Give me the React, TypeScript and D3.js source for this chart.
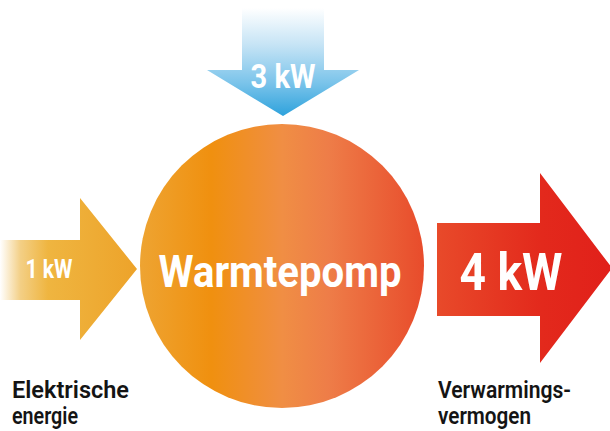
import React, { useEffect, useRef } from "react";
import * as d3 from "d3";

// flows in and out of the heat pump
const flowNames = ["input", "ambient", "output"];
const flowValues = [1, 3, 4];
const flowLabels = ["1 kW", "3 kW", "4 kW"];
const centerLabel = "Warmtepomp";
const leftCaption = ["Elektrische", "energie"];
const rightCaption = ["Verwarmings-", "vermogen"];

const W = 610;
const H = 431;
const FONT = "'Liberation Sans Narrow', 'Roboto', 'Open Sans', sans-serif";

const App = () => {
  const svgRef = useRef(null);

  useEffect(() => {
    const svg = d3.select(svgRef.current).attr("width", W).attr("height", H);
    svg.selectAll("*").remove();
    const defs = svg.append("defs");

    // ---------------- gradients
    const grad = (id, x1, y1, x2, y2, stops) => {
      const g = defs
        .append("linearGradient")
        .attr("id", id)
        .attr("gradientUnits", "userSpaceOnUse")
        .attr("x1", x1)
        .attr("y1", y1)
        .attr("x2", x2)
        .attr("y2", y2);
      g.selectAll("stop")
        .data(stops)
        .join("stop")
        .attr("offset", d => d[0])
        .attr("stop-color", d => d[1]);
    };
    grad("gBlue", 0, 8, 0, 116, [
      [0, "#ffffff"],
      [0.35, "#c4e3f5"],
      [0.7, "#79c3ea"],
      [1, "#2ea2dc"]
    ]);
    grad("gYellow", 0, 0, 137, 0, [
      [0, "#ffffff"],
      [0.15, "#f3cf85"],
      [0.35, "#efb540"],
      [1, "#eda32a"]
    ]);
    grad("gRed", 437, 0, 612, 0, [
      [0, "#e84a2a"],
      [0.6, "#e3291c"],
      [1, "#e1201a"]
    ]);
    grad("gCircle", 140, 0, 425, 0, [
      [0, "#eea432"],
      [0.25, "#f0900f"],
      [0.5, "#f08e44"],
      [0.66, "#ee7d48"],
      [1, "#e84b2b"]
    ]);

    // ---------------- arrow geometry (shaft rect + head triangle)
    const arrows = {
      input: { dir: "right", s0: 0, s1: 80, a: 240, b: 300, h0: 198, h1: 340, tip: 137, grad: "gYellow" },
      ambient: { dir: "down", s0: 0, s1: 70, a: 242, b: 324, h0: 207, h1: 359, tip: 116, grad: "gBlue" },
      output: { dir: "right", s0: 437, s1: 540, a: 223, b: 316, h0: 173, h1: 363, tip: 612, grad: "gRed" }
    };

    const arrowPath = g => {
      const mid = (g.h0 + g.h1) / 2;
      const pts =
        g.dir === "right"
          ? [
              [g.s0, g.a], [g.s1, g.a], [g.s1, g.h0], [g.tip, mid],
              [g.s1, g.h1], [g.s1, g.b], [g.s0, g.b]
            ]
          : [
              [g.a, g.s0], [g.b, g.s0], [g.b, g.s1], [g.h1, g.s1],
              [mid, g.tip], [g.h0, g.s1], [g.a, g.s1]
            ];
      return d3.line()(pts) + "Z";
    };

    // ---------------- circle
    const cx = 282;
    const cy = 266;
    const r = 142;
    svg.append("circle")
      .attr("cx", cx)
      .attr("cy", cy)
      .attr("r", r)
      .attr("fill", "url(#gCircle)");

    svg.selectAll(".arrow")
      .data(flowNames)
      .join("path")
      .attr("class", "arrow")
      .attr("d", d => arrowPath(arrows[d]))
      .attr("fill", d => `url(#${arrows[d].grad})`);

    // ---------------- labels on arrows
    const labelPos = {
      input: { x: 49, y: 278, size: 26, len: 47 },
      ambient: { x: 283, y: 88, size: 34, len: 65 },
      output: { x: 511, y: 290, size: 52, len: 103 }
    };
    svg.selectAll(".flow-label")
      .data(flowNames)
      .join("text")
      .attr("class", "flow-label")
      .attr("x", d => labelPos[d].x)
      .attr("y", d => labelPos[d].y)
      .attr("text-anchor", "middle")
      .attr("font-family", FONT)
      .attr("font-weight", "bold")
      .attr("font-size", d => labelPos[d].size)
      .attr("textLength", d => labelPos[d].len)
      .attr("lengthAdjust", "spacingAndGlyphs")
      .attr("fill", "#ffffff")
      .text((d, i) => flowLabels[i] + (flowValues[i] ? "" : ""));

    svg.append("text")
      .attr("x", 280)
      .attr("y", 287)
      .attr("text-anchor", "middle")
      .attr("font-family", FONT)
      .attr("font-weight", "bold")
      .attr("font-size", 44)
      .attr("textLength", 243)
      .attr("lengthAdjust", "spacingAndGlyphs")
      .attr("fill", "#ffffff")
      .text(centerLabel);

    // ---------------- captions
    const caption = (lines, x, lens) => {
      svg.append("g")
        .selectAll("text")
        .data(lines)
        .join("text")
        .attr("x", x)
        .attr("y", (d, i) => 398 + i * 26)
        .attr("font-family", FONT)
        .attr("font-weight", 600)
        .attr("font-size", 23)
        .attr("textLength", (d, i) => lens[i])
        .attr("lengthAdjust", "spacingAndGlyphs")
        .attr("fill", "#141414")
        .text(d => d);
    };
    caption(leftCaption, 12, [117, 66]);
    caption(rightCaption, 438, [133, 93]);
  }, []);

  return (
    <div style={{ position: "absolute", left: 0, top: 0 }}>
      <svg ref={svgRef} style={{ display: "block", background: "#ffffff" }} />
    </div>
  );
};

export default App;
